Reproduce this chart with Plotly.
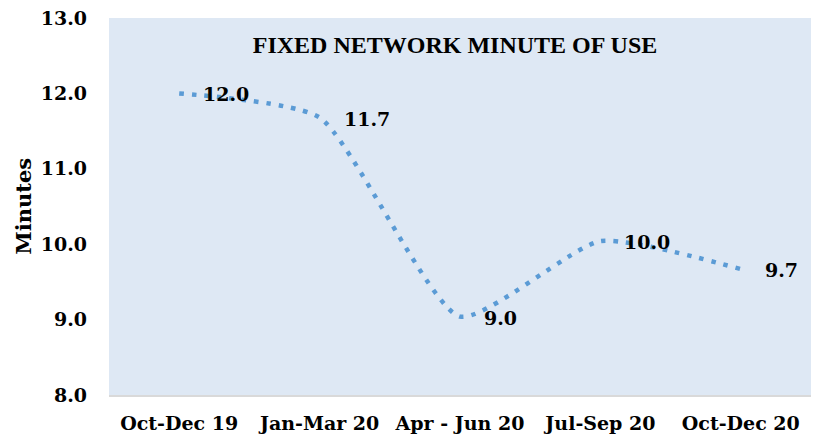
import plotly.graph_objects as go

categories = ["Oct-Dec 19", "Jan-Mar 20", "Apr - Jun 20", "Jul-Sep 20", "Oct-Dec 20"]
minutes = [12.0, 11.68, 9.04, 10.04, 9.67]
y_ticks = [8.0, 9.0, 10.0, 11.0, 12.0, 13.0]

FONT = "DejaVu Serif"
TFONT = "Liberation Serif"
OFF = 8  # page body margin
L, R, T, B = 109 - OFF, 8 + OFF, 18 - OFF, 47 + OFF
W, H = 819, 442
PW = W - L - R

fig = go.Figure()
fig.add_trace(go.Scatter(
    x=categories, y=minutes, mode="lines",
    line=dict(color="#5B9BD5", width=4.5, dash="4.5px,8px", shape="spline", smoothing=0.55),
    hoverinfo="skip", showlegend=False,
))
for c, v in zip(categories, minutes):
    fig.add_annotation(x=c, y=v, text=f"<b>{v:.1f}</b>", showarrow=False,
                       xanchor="left", yanchor="middle", xshift=22, yshift=-1,
                       font=dict(family=FONT, size=19, color="#000000"))

fig.add_annotation(text="<b>Minutes</b>", xref="paper", yref="paper",
                   x=(23 - 109) / PW, y=0.5, textangle=-90, showarrow=False,
                   xanchor="center", yanchor="middle",
                   font=dict(family=FONT, size=21, color="#000000"))

fig.update_layout(
    width=W, height=H,
    margin=dict(l=L, r=R, t=T, b=B),
    paper_bgcolor="white", plot_bgcolor="#DEE8F4",
    title=dict(text="<b>FIXED NETWORK MINUTE OF USE</b>", x=(455 - 109) / PW, xref="paper",
               y=1 - (45 - OFF) / H, yref="container", yanchor="middle", xanchor="center",
               font=dict(family=TFONT, size=24, color="#000000")),
    font=dict(family=FONT, color="#000000"),
)
fig.update_xaxes(
    range=[-0.5, 4.5], showgrid=False, showline=True, linecolor="#D9D9D9", linewidth=1.5,
    ticks="", tickfont=dict(family=FONT, size=19, color="#000000", weight="bold"),
    ticklabelstandoff=10, fixedrange=True, automargin=False, ticklabeloverflow="allow",
)
fig.update_yaxes(
    range=[8, 13], tickvals=y_ticks, ticktext=[f"{t:.1f}" for t in y_ticks],
    showgrid=False, zeroline=False, showline=False, ticks="",
    tickfont=dict(family=FONT, size=19, color="#000000", weight="bold"),
    ticklabelstandoff=21, fixedrange=True, automargin=False, ticklabeloverflow="allow",
)
fig.write_html("out.html")
